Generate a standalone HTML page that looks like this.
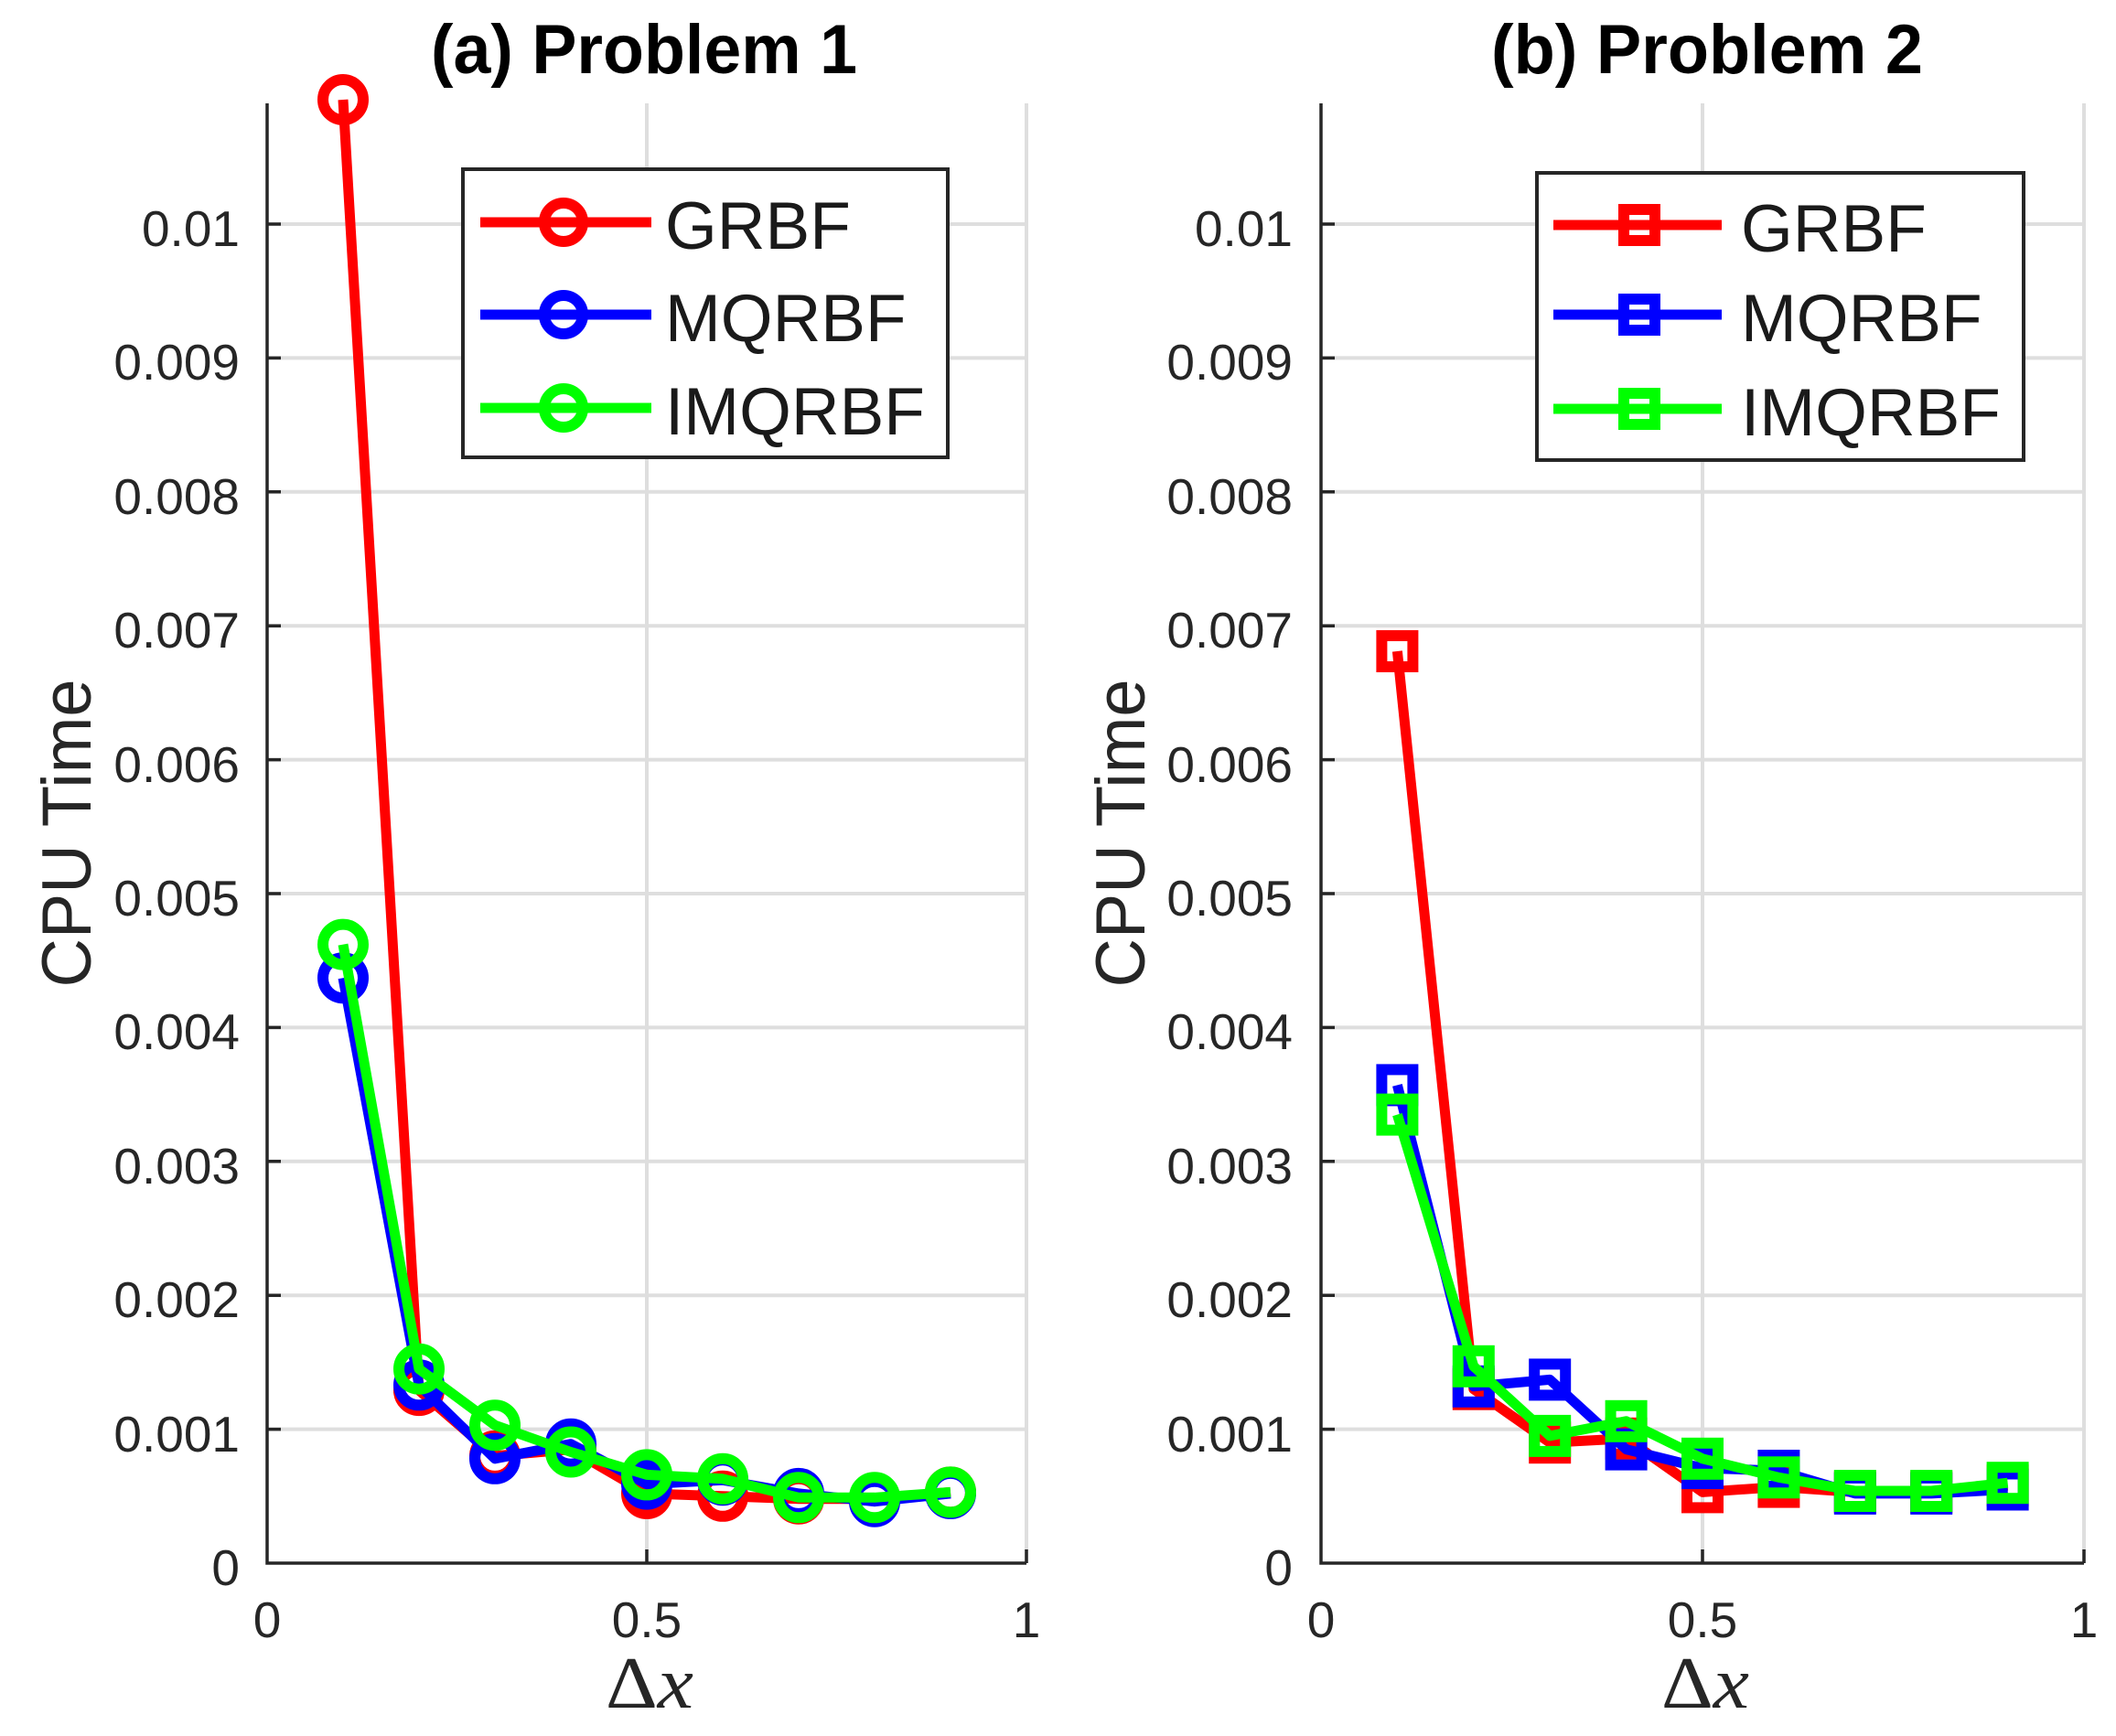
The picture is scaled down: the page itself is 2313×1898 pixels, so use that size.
<!DOCTYPE html>
<html><head><meta charset="utf-8"><style>
html,body{margin:0;padding:0;background:#fff;}
svg{display:block;}
text{font-family:"Liberation Sans",Arial,sans-serif;}
.tk{font-size:55px;fill:#262626;}
.lg{font-size:73px;fill:#1a1a1a;}
.ti{font-size:76px;font-weight:bold;fill:#000;}
.yl{font-size:76px;fill:#262626;}
.grid{stroke:#dedede;stroke-width:4;fill:none;}
.ax{stroke:#262626;stroke-width:3.5;fill:none;}
.r{stroke:#ff0000;}
.b{stroke:#0000ff;}
.g{stroke:#00ff00;}
.ln{stroke-width:11;fill:none;stroke-linejoin:round;}
.mk{stroke-width:12;fill:none;}
</style></head><body>
<svg width="2313" height="1898" viewBox="0 0 2313 1898" xmlns="http://www.w3.org/2000/svg">
<rect width="2313" height="1898" fill="#fff"/>

<!-- ============ LEFT PANEL ============ -->
<g>
<!-- grid -->
<path class="grid" d="M292 1562.6H1122M292 1416.2H1122M292 1269.8H1122M292 1123.4H1122M292 977H1122M292 830.6H1122M292 684.2H1122M292 537.8H1122M292 391.4H1122M292 245H1122M707 113V1709M1122 113V1709"/>
<!-- axes -->
<path class="ax" d="M292 113V1709H1122"/>
<path class="ax" d="M292 1562.6h15M292 1416.2h15M292 1269.8h15M292 1123.4h15M292 977h15M292 830.6h15M292 684.2h15M292 537.8h15M292 391.4h15M292 245h15M707 1709v-15M1122 1709v-15"/>
<!-- y tick labels -->
<g class="tk" text-anchor="end">
<text x="262" y="1733">0</text>
<text x="262" y="1587">0.001</text>
<text x="262" y="1440">0.002</text>
<text x="262" y="1294">0.003</text>
<text x="262" y="1147">0.004</text>
<text x="262" y="1001">0.005</text>
<text x="262" y="855">0.006</text>
<text x="262" y="708">0.007</text>
<text x="262" y="562">0.008</text>
<text x="262" y="415">0.009</text>
<text x="262" y="269">0.01</text>
</g>
<g class="tk" text-anchor="middle">
<text x="292" y="1790">0</text>
<text x="707" y="1790">0.5</text>
<text x="1122" y="1790">1</text>
</g>
<text class="yl" transform="translate(99,911) rotate(-90)" text-anchor="middle" textLength="337" lengthAdjust="spacingAndGlyphs">CPU Time</text>
<text x="710" y="1867" text-anchor="middle" font-family="'Liberation Serif',serif" font-size="80" fill="#262626" textLength="96" lengthAdjust="spacingAndGlyphs" style="font-family:'Liberation Serif',serif">Δ<tspan font-style="italic">x</tspan></text>
<text class="ti" x="704" y="80" text-anchor="middle" textLength="466" lengthAdjust="spacingAndGlyphs">(a) Problem 1</text>

<!-- series -->
<polyline class="ln r" points="375,109 458,1520.1 541,1591.9 624,1584.6 707,1632.9 790,1635.8 873,1638.7 956,1638.7 1039,1631.4"/>
<g class="mk r">
<circle cx="375" cy="109" r="22"/><circle cx="458" cy="1520.1" r="22"/><circle cx="541" cy="1591.9" r="22"/><circle cx="624" cy="1584.6" r="22"/><circle cx="707" cy="1632.9" r="22"/><circle cx="790" cy="1635.8" r="22"/><circle cx="873" cy="1638.7" r="22"/><circle cx="956" cy="1638.7" r="22"/><circle cx="1039" cy="1631.4" r="22"/>
</g>
<polyline class="ln b" points="375,1069.2 458,1514.3 541,1594.8 624,1578.7 707,1622.6 790,1618.2 873,1632.9 956,1641.7 1039,1632.9"/>
<g class="mk b">
<circle cx="375" cy="1069.2" r="22"/><circle cx="458" cy="1514.3" r="22"/><circle cx="541" cy="1594.8" r="22"/><circle cx="624" cy="1578.7" r="22"/><circle cx="707" cy="1622.6" r="22"/><circle cx="790" cy="1618.2" r="22"/><circle cx="873" cy="1632.9" r="22"/><circle cx="956" cy="1641.7" r="22"/><circle cx="1039" cy="1632.9" r="22"/>
</g>
<polyline class="ln g" points="375,1032.6 458,1496.7 541,1558.2 624,1587.5 707,1612.4 790,1616.8 873,1637.3 956,1637.3 1039,1631.4"/>
<g class="mk g">
<circle cx="375" cy="1032.6" r="22"/><circle cx="458" cy="1496.7" r="22"/><circle cx="541" cy="1558.2" r="22"/><circle cx="624" cy="1587.5" r="22"/><circle cx="707" cy="1612.4" r="22"/><circle cx="790" cy="1616.8" r="22"/><circle cx="873" cy="1637.3" r="22"/><circle cx="956" cy="1637.3" r="22"/><circle cx="1039" cy="1631.4" r="22"/>
</g>

<!-- legend -->
<rect x="506" y="185" width="530" height="315" fill="#fff" stroke="#262626" stroke-width="4"/>
<path class="ln r" d="M525 243H712"/><circle class="mk r" cx="616" cy="243" r="21"/>
<path class="ln b" d="M525 344H712"/><circle class="mk b" cx="616" cy="344" r="21"/>
<path class="ln g" d="M525 446H712"/><circle class="mk g" cx="616" cy="446" r="21"/>
<text class="lg" x="727" y="272">GRBF</text>
<text class="lg" x="727" y="373">MQRBF</text>
<text class="lg" x="727" y="475">IMQRBF</text>
</g>

<!-- ============ RIGHT PANEL ============ -->
<g>
<path class="grid" d="M1444 1562.6H2278M1444 1416.2H2278M1444 1269.8H2278M1444 1123.4H2278M1444 977H2278M1444 830.6H2278M1444 684.2H2278M1444 537.8H2278M1444 391.4H2278M1444 245H2278M1861 113V1709M2278 113V1709"/>
<path class="ax" d="M1444 113V1709H2278"/>
<path class="ax" d="M1444 1562.6h15M1444 1416.2h15M1444 1269.8h15M1444 1123.4h15M1444 977h15M1444 830.6h15M1444 684.2h15M1444 537.8h15M1444 391.4h15M1444 245h15M1861 1709v-15M2278 1709v-15"/>
<g class="tk" text-anchor="end">
<text x="1413" y="1733">0</text>
<text x="1413" y="1587">0.001</text>
<text x="1413" y="1440">0.002</text>
<text x="1413" y="1294">0.003</text>
<text x="1413" y="1147">0.004</text>
<text x="1413" y="1001">0.005</text>
<text x="1413" y="855">0.006</text>
<text x="1413" y="708">0.007</text>
<text x="1413" y="562">0.008</text>
<text x="1413" y="415">0.009</text>
<text x="1413" y="269">0.01</text>
</g>
<g class="tk" text-anchor="middle">
<text x="1444" y="1790">0</text>
<text x="1861" y="1790">0.5</text>
<text x="2278" y="1790">1</text>
</g>
<text class="yl" transform="translate(1251,911) rotate(-90)" text-anchor="middle" textLength="337" lengthAdjust="spacingAndGlyphs">CPU Time</text>
<text x="1864" y="1867" text-anchor="middle" font-size="80" fill="#262626" textLength="96" lengthAdjust="spacingAndGlyphs" style="font-family:'Liberation Serif',serif">Δ<tspan font-style="italic">x</tspan></text>
<text class="ti" x="1866" y="80" text-anchor="middle" textLength="472" lengthAdjust="spacingAndGlyphs">(b) Problem 2</text>

<polyline class="ln r" points="1527.4,712 1610.8,1518.7 1694.2,1577.2 1777.6,1572.8 1861,1631.4 1944.4,1625.6 2027.8,1631.4 2111.2,1631.4 2194.6,1624.1"/>
<g class="mk r">
<rect x="1510.4" y="695" width="34" height="34"/><rect x="1593.8" y="1501.7" width="34" height="34"/><rect x="1677.2" y="1560.2" width="34" height="34"/><rect x="1760.6" y="1555.8" width="34" height="34"/><rect x="1844" y="1614.4" width="34" height="34"/><rect x="1927.4" y="1608.6" width="34" height="34"/><rect x="2010.8" y="1614.4" width="34" height="34"/><rect x="2094.2" y="1614.4" width="34" height="34"/><rect x="2177.6" y="1607.1" width="34" height="34"/>
</g>
<polyline class="ln b" points="1527.4,1186.4 1610.8,1515.8 1694.2,1508.4 1777.6,1584.6 1861,1605.1 1944.4,1608 2027.8,1632.9 2111.2,1632.9 2194.6,1628.5"/>
<g class="mk b">
<rect x="1510.4" y="1169.4" width="34" height="34"/><rect x="1593.8" y="1498.8" width="34" height="34"/><rect x="1677.2" y="1491.4" width="34" height="34"/><rect x="1760.6" y="1567.6" width="34" height="34"/><rect x="1844" y="1588.1" width="34" height="34"/><rect x="1927.4" y="1591" width="34" height="34"/><rect x="2010.8" y="1615.9" width="34" height="34"/><rect x="2094.2" y="1615.9" width="34" height="34"/><rect x="2177.6" y="1611.5" width="34" height="34"/>
</g>
<polyline class="ln g" points="1527.4,1218.6 1610.8,1493.8 1694.2,1569.9 1777.6,1553.8 1861,1594.8 1944.4,1615.3 2027.8,1630 2111.2,1630 2194.6,1621.2"/>
<g class="mk g">
<rect x="1510.4" y="1201.6" width="34" height="34"/><rect x="1593.8" y="1476.8" width="34" height="34"/><rect x="1677.2" y="1552.9" width="34" height="34"/><rect x="1760.6" y="1536.8" width="34" height="34"/><rect x="1844" y="1577.8" width="34" height="34"/><rect x="1927.4" y="1598.3" width="34" height="34"/><rect x="2010.8" y="1613" width="34" height="34"/><rect x="2094.2" y="1613" width="34" height="34"/><rect x="2177.6" y="1604.2" width="34" height="34"/>
</g>

<rect x="1680" y="189" width="532" height="314" fill="#fff" stroke="#262626" stroke-width="4"/>
<path class="ln r" d="M1698 246H1882"/><rect class="mk r" x="1775" y="229" width="34" height="34"/>
<path class="ln b" d="M1698 344H1882"/><rect class="mk b" x="1775" y="327" width="34" height="34"/>
<path class="ln g" d="M1698 447H1882"/><rect class="mk g" x="1775" y="430" width="34" height="34"/>
<text class="lg" x="1903" y="275">GRBF</text>
<text class="lg" x="1903" y="373">MQRBF</text>
<text class="lg" x="1903" y="476">IMQRBF</text>
</g>
</svg>
</body></html>
